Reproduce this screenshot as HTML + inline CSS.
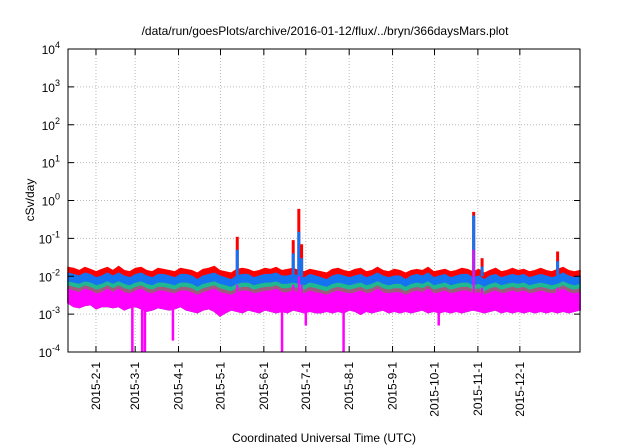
<!DOCTYPE html>
<html><head><meta charset="utf-8"><style>
body{margin:0;background:#fff;}
svg{display:block;font-family:"Liberation Sans",Arial,sans-serif;}
</style></head><body>
<svg id="chart" width="640" height="448" viewBox="0 0 640 448">
<rect width="640" height="448" fill="#fff"/>
<text x="325" y="35" text-anchor="middle" font-size="12">/data/run/goesPlots/archive/2016-01-12/flux/../bryn/366daysMars.plot</text>
<text transform="translate(34,200) rotate(-90)" text-anchor="middle" font-size="12">cSv/day</text>
<text x="324" y="442" text-anchor="middle" font-size="12">Coordinated Universal Time (UTC)</text>
<g id="grid"></g><g id="series"></g><g id="axes"></g>
</svg>
<script>
const yTickExps=[-4,-3,-2,-1,0,1,2,3,4];
const xTickLabels=["2015-2-1","2015-3-1","2015-4-1","2015-5-1","2015-6-1","2015-7-1","2015-8-1","2015-9-1","2015-10-1","2015-11-1","2015-12-1"];
const xTickDates=[[2015,1,1],[2015,2,1],[2015,3,1],[2015,4,1],[2015,5,1],[2015,6,1],[2015,7,1],[2015,8,1],[2015,9,1],[2015,10,1],[2015,11,1]];
// band values (cSv/day, x1e-3), evenly spaced over 366 days
const redVals=[17,16,14,17,15,13,15,17,14,18,14,13,16,17,14,13,16,15,14,13,16,15,14,12,15,16,18,14,13,12,15,16,15,13,14,16,15,17,14,15,16,14,13,15,14,13,12,15,16,14,13,15,16,13,14,17,14,13,15,14,12,14,15,14,17,13,14,15,13,14,16,15,13,15,12,14,16,13,14,16,14,15,13,14,16,14,13,15,17,14,13,14];
const blueVals=[12,11,10,12,11,9,10,12,10,12,10,9,11,12,10,9,11,11,10,9,11,11,10,8,10,11,12,10,9,8,10,11,11,9,10,11,11,12,10,10,11,10,9,11,10,9,8,10,11,10,9,10,11,9,10,12,10,9,10,10,8,10,11,10,12,9,10,11,9,10,11,11,9,10,8,10,11,9,10,11,10,11,9,10,11,10,9,10,12,10,9,10];
const tealVals=[7,6.5,6,7,6.5,5.5,6,7,6,7,6,5.5,6.5,7,6,5.5,6.5,6.5,6,5.5,6.5,6.5,6,5,6,6.5,7,6,5.5,5,6,6.5,6.5,5.5,6,6.5,6.5,7,6,6,6.5,6,5.5,6.5,6,5.5,5,6,6.5,6,5.5,6,6.5,5.5,6,7,6,5.5,6,6,5,6,6.5,6,7,5.5,6,6.5,5.5,6,6.5,6.5,5.5,6,5,6,6.5,5.5,6,6.5,6,6.5,5.5,6,6.5,6,5.5,6,7,6,5.5,6];
const brownVals=[5.5,5,4.6,5.5,5,4.2,4.6,5.5,4.6,5.5,4.6,4.2,5,5.5,4.6,4.2,5,5,4.6,4.2,5,5,4.6,3.8,4.6,5,5.5,4.6,4.2,3.8,4.6,5,5,4.2,4.6,5,5,5.5,4.6,4.6,5,4.6,4.2,5,4.6,4.2,3.8,4.6,5,4.6,4.2,4.6,5,4.2,4.6,5.5,4.6,4.2,4.6,4.6,3.8,4.6,5,4.6,5.5,4.2,4.6,5,4.2,4.6,5,5,4.2,4.6,3.8,4.6,5,4.2,4.6,5,4.6,5,4.2,4.6,5,4.6,4.2,4.6,5.5,4.6,4.2,4.6];
const magTopVals=[4.5,4,3.6,4.5,4,3.4,3.6,4.5,3.6,4.5,3.6,3.4,4,4.5,3.6,3.4,4,4,3.6,3.4,4,4,3.6,3.1,3.6,4,4.5,3.6,3.4,3.1,3.6,4,4,3.4,3.6,4,4,4.5,3.6,3.6,4,3.6,3.4,4,3.6,3.4,3.1,3.6,4,3.6,3.4,3.6,4,3.4,3.6,4.5,3.6,3.4,3.6,3.6,3.1,3.6,4,3.6,4.5,3.4,3.6,4,3.4,3.6,4,4,3.4,3.6,3.1,3.6,4,3.4,3.6,4,3.6,4,3.4,3.6,4,3.6,3.4,3.6,4.5,3.6,3.4,3.6];
const magBotVals=[2.0,1.6,1.5,1.7,1.8,1.4,1.6,1.6,1.5,1.6,1.3,1.5,1.6,1.4,1.2,1.3,1.5,1.4,1.3,1.4,1.6,1.3,1.2,1.1,1.3,1.4,1.2,0.9,1.1,1.3,1.2,1.1,1.3,1.2,1.1,1.3,1.2,1.1,1.2,1.1,1.3,1.2,1.1,1.2,1.1,1.1,1.2,1.1,1.2,1.1,1.3,1.2,1.0,1.2,1.1,1.2,1.3,1.1,1.2,1.1,1.2,1.1,1.2,1.3,1.1,1.2,1.1,1.2,1.1,1.2,1.1,1.2,1.3,1.2,1.1,1.2,1.3,1.1,1.2,1.1,1.2,1.1,1.2,1.1,1.2,1.1,1.2,1.1,1.2,1.1,1.2,1.3];
// upward spikes
const spikeDates=[[2015,4,13],[2015,5,22],[2015,5,26],[2015,5,28],[2015,9,29],[2015,10,4],[2015,11,28]];
const spikeRed=[0.11,0.09,0.6,0.07,0.5,0.03,0.045];
const spikeBlue=[0.05,0.04,0.15,0.03,0.4,0.018,0.025];
const spikeMag=[0.006,0.006,0.01,0.006,0.05,0.005,0.005];
// downward magenta dips
const dipDates=[[2015,1,27],[2015,2,6],[2015,2,8],[2015,2,28],[2015,5,14],[2015,6,1],[2015,6,28],[2015,9,4]];
const dipVals=[0.0001,0.0001,0.0001,0.0002,0.0001,0.0005,0.0001,0.0005];

const X0=68,X1=580,Y0=352,Y1=49,DAYS=366;
const start=Date.UTC(2015,0,12);
function dayOf(d){return (Date.UTC(d[0],d[1],d[2])-start)/86400000;}
function xs(day){return X0+day/DAYS*(X1-X0);}
function ys(v){return Y0-(Math.log10(v)+4)/8*(Y0-Y1);}
const NS="http://www.w3.org/2000/svg";
function mk(tag,attrs,parent){const e=document.createElementNS(NS,tag);for(const k in attrs)e.setAttribute(k,attrs[k]);parent.appendChild(e);return e;}
const grid=document.getElementById('grid'),ser=document.getElementById('series'),axes=document.getElementById('axes');

yTickExps.forEach(p=>{const y=ys(Math.pow(10,p));
 if(p>-4&&p<4){const l=mk('line',{x1:X0,x2:X1,y1:y,y2:y,stroke:'#bbb','stroke-dasharray':'1,2','stroke-width':1},grid);
 
 }
 const t=mk('line',{x1:X0,x2:X0+6,y1:y,y2:y,stroke:'#000'},axes);
 
 
 mk('line',{x1:X1,x2:X1-6,y1:y,y2:y,stroke:'#000'},axes);
 const tx=mk('text',{x:X0-8,y:y+5,'text-anchor':'end','font-size':12},axes);
 
 
 tx.textContent='10';
 const s=mk('tspan',{dy:-6,'font-size':9},tx);s.textContent=String(p);
});
xTickDates.forEach((d,i)=>{const x=xs(dayOf(d));
 const l=mk('line',{x1:x,x2:x,y1:Y1,y2:Y0,stroke:'#bbb','stroke-dasharray':'1,2'},grid);
 
 
 mk('line',{x1:x,x2:x,y1:Y0,y2:Y0-6,stroke:'#000'},axes);
 mk('line',{x1:x,x2:x,y1:Y1,y2:Y1+6,stroke:'#000'},axes);
 const t=mk('text',{transform:`translate(${x+4},${Y0+10}) rotate(-90)`,'text-anchor':'end','font-size':12},axes);
 
 
 t.textContent=xTickLabels[i];
});
function band(top,bot,color,name){
 const n=top.length,pts=[];
 for(let i=0;i<n;i++){const x=xs(i*DAYS/(n-1));pts.push(x+','+ys(top[i]*1e-3));}
 for(let i=n-1;i>=0;i--){const x=xs(i*DAYS/(n-1));pts.push(x+','+ys(bot[i]*1e-3));}
 const p=mk('polygon',{points:pts.join(' '),fill:color,stroke:color,'stroke-width':1.5},ser);
 
 
}
band(redVals,magBotVals,'#ff0000','series-red');
band(blueVals,magBotVals,'#1473f0','series-blue');
band(tealVals,magBotVals,'#20b890','series-teal');
band(brownVals,magBotVals,'#a05a80','series-brown');
band(magTopVals,magBotVals,'#ff00ff','series-magenta');
spikeDates.forEach((d,i)=>{const x=xs(dayOf(d));
 const a=mk('line',{x1:x,x2:x,y1:ys(0.012),y2:ys(spikeRed[i]),stroke:'#ff0000','stroke-width':3},ser);
 
 
 const b=mk('line',{x1:x,x2:x,y1:ys(0.01),y2:ys(spikeBlue[i]),stroke:'#1473f0','stroke-width':3},ser);
 
 
 const c=mk('line',{x1:x,x2:x,y1:ys(0.003),y2:ys(spikeMag[i]),stroke:'#ff00ff','stroke-width':2},ser);
 
 
});
dipDates.forEach((d,i)=>{const x=xs(dayOf(d));
 const a=mk('line',{x1:x,x2:x,y1:ys(0.0015),y2:ys(dipVals[i]),stroke:'#ff00ff','stroke-width':2.5},ser);
 
 
});
const fr=mk('rect',{x:X0,y:Y1,width:X1-X0,height:Y0-Y1,fill:'none',stroke:'#000','stroke-width':1},axes);


</script>
</body></html>
